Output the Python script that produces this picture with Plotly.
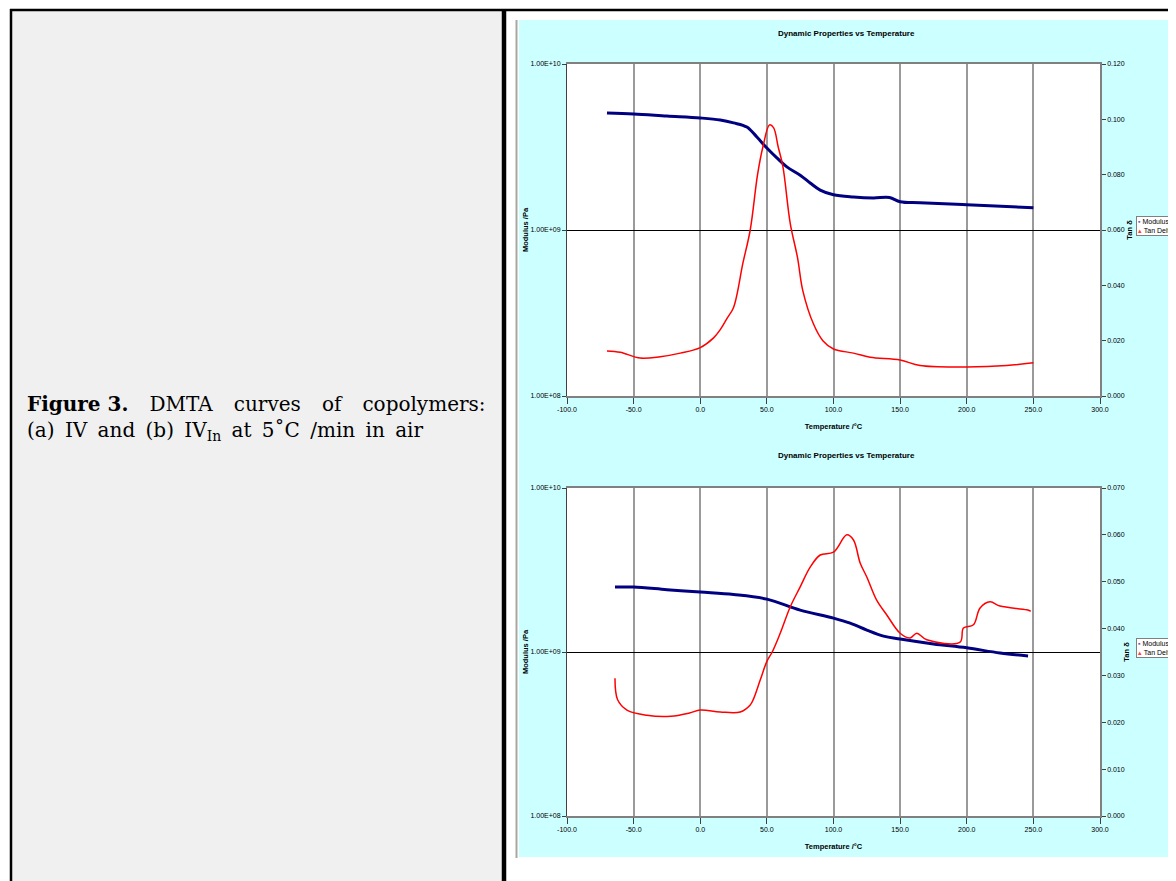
import plotly.graph_objects as go

# The page body adds an 8 px margin; the figure is sized so it ends at the window edge.
OFF = 8
W, H = 1168, 873

# ---------------- data ----------------
# (a) copolymer IV
temp_a_mod = [-70, -50, -25, 0, 15, 25, 35, 42.5, 50, 57.5, 65, 75, 82.5, 90, 100, 115, 130, 142, 150, 165, 200, 250]
modulus_a = [5.07e9, 5.0e9, 4.86e9, 4.73e9, 4.6e9, 4.42e9, 4.17e9, 3.63e9, 3.12e9, 2.72e9, 2.4e9, 2.14e9,
             1.92e9, 1.74e9, 1.63e9, 1.58e9, 1.56e9, 1.57e9, 1.48e9, 1.46e9, 1.42e9, 1.36e9]
temp_a_tan = [-70, -60, -45, -30, -15, 0, 10, 15, 20, 25, 32, 37.5, 43, 47, 52, 55, 58.5, 62, 67.5, 73, 77,
              85, 92, 100, 115, 127.5, 150, 165, 200, 230, 250]
tan_a = [0.0163, 0.0158, 0.0137, 0.0142, 0.0155, 0.0175, 0.021, 0.024, 0.028, 0.032, 0.048, 0.060, 0.080,
         0.090, 0.098, 0.097, 0.090, 0.083, 0.0625, 0.050, 0.038, 0.026, 0.020, 0.017, 0.0155, 0.014, 0.013,
         0.011, 0.0105, 0.011, 0.012]

# (b) copolymer IV_In
temp_b_mod = [-64, -50, -25, 0, 25, 50, 75, 100, 112.5, 125, 137.5, 150, 175, 200, 225, 246]
modulus_b = [2.49e9, 2.49e9, 2.4e9, 2.32e9, 2.24e9, 2.1e9, 1.8e9, 1.61e9, 1.5e9, 1.36e9, 1.25e9, 1.2e9,
             1.12e9, 1.06e9, 0.986e9, 0.946e9]
temp_b_tan = [-64, -62, -55, -40, -22, -8, 0, 15, 30, 37.5, 40, 45, 50, 54, 60, 67.5, 75, 82.5, 90, 100,
              110, 115, 120, 125, 132.5, 140, 150, 157.5, 162.5, 170, 195, 197.5, 205, 210, 217.5, 225, 245, 248]
tan_b = [0.0294, 0.0248, 0.0226, 0.0215, 0.0213, 0.022, 0.0226, 0.0222, 0.0222, 0.0237, 0.025, 0.029, 0.033,
         0.035, 0.039, 0.0446, 0.0489, 0.0531, 0.0557, 0.0563, 0.060, 0.0589, 0.054, 0.051, 0.046, 0.0429,
         0.039, 0.038, 0.039, 0.0376, 0.0371, 0.0401, 0.0408, 0.0444, 0.0457, 0.0448, 0.044, 0.0437]

x_ticks = [-100, -50, 0, 50, 100, 150, 200, 250, 300]
x_ticktext = ["-100.0", "-50.0", "0.0", "50.0", "100.0", "150.0", "200.0", "250.0", "300.0"]
mod_ticks = [1e8, 1e9, 1e10]
mod_ticktext = ["1.00E+08", "1.00E+09", "1.00E+10"]
tan_a_ticks = [0, 0.02, 0.04, 0.06, 0.08, 0.10, 0.12]
tan_a_ticktext = ["0.000", "0.020", "0.040", "0.060", "0.080", "0.100", "0.120"]
tan_b_ticks = [0, 0.01, 0.02, 0.03, 0.04, 0.05, 0.06, 0.07]
tan_b_ticktext = ["0.000", "0.010", "0.020", "0.030", "0.040", "0.050", "0.060", "0.070"]

NAVY = "#000080"
RED = "#ff0000"
CHART_FONT = "Liberation Sans Narrow, Arial Narrow, Liberation Sans, Arial, sans-serif"
SERIF = "DejaVu Serif, Liberation Serif, serif"


def px(x):
    return (x - OFF) / W


def py(y):
    return 1 - (y - OFF) / H


fig = go.Figure()
fig.add_trace(go.Scatter(x=temp_a_mod, y=modulus_a, name="Modulus", mode="lines",
                         line=dict(color=NAVY, width=3, shape="spline"), xaxis="x", yaxis="y", showlegend=False))
fig.add_trace(go.Scatter(x=temp_a_tan, y=tan_a, name="Tan Delta", mode="lines",
                         line=dict(color=RED, width=1.5, shape="spline"), xaxis="x", yaxis="y2", showlegend=False))
fig.add_trace(go.Scatter(x=temp_b_mod, y=modulus_b, name="Modulus", mode="lines",
                         line=dict(color=NAVY, width=3, shape="spline"), xaxis="x2", yaxis="y3", showlegend=False))
fig.add_trace(go.Scatter(x=temp_b_tan, y=tan_b, name="Tan Delta", mode="lines",
                         line=dict(color=RED, width=1.5, shape="spline"), xaxis="x2", yaxis="y4", showlegend=False))

xdom = [px(567), px(1100)]
top_dom = [py(396), py(64)]
bot_dom = [py(816), py(488)]

tickfont = dict(family=CHART_FONT, size=7, color="#000000")
titlefont = dict(family=CHART_FONT, size=7.5, color="#000000")


def xaxis_cfg(anchor):
    return dict(domain=xdom, anchor=anchor, range=[-100, 300], tickvals=x_ticks, ticktext=x_ticktext,
                showgrid=True, gridcolor="#9a9a9a", gridwidth=1.5, zeroline=False,
                showline=True, linecolor="#808080", linewidth=1.5, mirror=True,
                ticks="outside", ticklen=6, tickcolor="#404040", tickfont=tickfont,
                title=dict(text="<b>Temperature /°C</b>", font=titlefont, standoff=12), automargin=False)


def ymod_cfg(dom, anchor):
    return dict(domain=dom, anchor=anchor, type="log", range=[8, 10], tickvals=mod_ticks, ticktext=mod_ticktext,
                showgrid=True, gridcolor="#000000", gridwidth=1, zeroline=False,
                showline=True, linecolor="#404040", linewidth=1,
                ticks="outside", ticklen=4, tickcolor="#404040", tickfont=tickfont,
                title=dict(text="<b>Modulus /Pa</b>", font=titlefont, standoff=0), automargin=False)


def ytan_cfg(over, anchor, rng, tv, tt):
    return dict(overlaying=over, anchor=anchor, side="right", range=rng, tickvals=tv, ticktext=tt,
                showgrid=False, zeroline=False, showline=True, linecolor="#808080", linewidth=1.5,
                ticks="outside", ticklen=4, tickcolor="#404040", tickfont=tickfont,
                title=dict(text="<b>Tan δ</b>", font=titlefont, standoff=0), automargin=False)


shapes = [
    # left caption cell
    dict(type="rect", xref="paper", yref="paper", x0=px(12), x1=px(502), y0=0, y1=py(11),
         fillcolor="#f0f0f0", line=dict(width=0), layer="below"),
    # cyan chart background
    dict(type="rect", xref="paper", yref="paper", x0=px(519), x1=1, y0=py(857), y1=py(20),
         fillcolor="#ccffff", line=dict(width=0), layer="below"),
    # white plot areas
    dict(type="rect", xref="paper", yref="paper", x0=xdom[0], x1=xdom[1], y0=top_dom[0], y1=top_dom[1],
         fillcolor="#ffffff", line=dict(width=0), layer="below"),
    dict(type="rect", xref="paper", yref="paper", x0=xdom[0], x1=xdom[1], y0=bot_dom[0], y1=bot_dom[1],
         fillcolor="#ffffff", line=dict(width=0), layer="below"),
    # gray frame line of picture
    dict(type="line", xref="paper", yref="paper", x0=px(516.5), x1=px(516.5), y0=py(858), y1=py(20),
         line=dict(color="#a8a8a0", width=2), layer="below"),
    # table borders
    dict(type="line", xref="paper", yref="paper", x0=px(10), x1=1, y0=py(10), y1=py(10),
         line=dict(color="#000000", width=2.5), layer="above"),
    dict(type="line", xref="paper", yref="paper", x0=px(11), x1=px(11), y0=0, y1=py(9),
         line=dict(color="#000000", width=2.5), layer="above"),
    dict(type="line", xref="paper", yref="paper", x0=px(504), x1=px(504), y0=0, y1=py(9),
         line=dict(color="#000000", width=4.5), layer="above"),
]

legend_text = ("<span style='color:#6060c0'>▪</span><span style='color:#000000'> Modulus</span><br>"
               "<span style='color:#ff4040'>▴</span><span style='color:#000000'> Tan Delta</span>")

gap = "\u00a0\u00a0\u00a0\u200a"
sp = "\u00a0\u2009"
annotations = [
    dict(text="<b>Dynamic Properties vs Temperature</b>", x=px(846), y=py(33), xref="paper", yref="paper",
         xanchor="center", yanchor="middle", showarrow=False, font=dict(family=CHART_FONT, size=8, color="#000")),
    dict(text="<b>Dynamic Properties vs Temperature</b>", x=px(846), y=py(456), xref="paper", yref="paper",
         xanchor="center", yanchor="middle", showarrow=False, font=dict(family=CHART_FONT, size=8, color="#000")),
    dict(text=legend_text, x=px(1136), y=py(216), xref="paper", yref="paper", xanchor="left", yanchor="top",
         align="left", showarrow=False, bgcolor="#ffffff", bordercolor="#808080", borderwidth=1, borderpad=1,
         font=dict(family=CHART_FONT, size=7, color="#000")),
    dict(text=legend_text, x=px(1136), y=py(638), xref="paper", yref="paper", xanchor="left", yanchor="top",
         align="left", showarrow=False, bgcolor="#ffffff", bordercolor="#808080", borderwidth=1, borderpad=1,
         font=dict(family=CHART_FONT, size=7, color="#000")),
    dict(text="<b>Figure 3.</b>" + gap + "DMTA" + gap + "curves" + gap + "of" + gap + "copolymers:",
         x=px(25), y=py(404), xref="paper", yref="paper", xanchor="left", yanchor="middle", showarrow=False,
         font=dict(family=SERIF, size=20, color="#000")),
    dict(text="(a)" + sp + "IV" + sp + "and" + sp + "(b)" + sp + "IV<sub>In</sub>" + sp + "at" + sp + "5˚C" + sp
         + "/min" + sp + "in" + sp + "air",
         x=px(25), y=py(431), xref="paper", yref="paper", xanchor="left", yanchor="middle", showarrow=False,
         font=dict(family=SERIF, size=20, color="#000")),
]

fig.update_layout(
    width=W, height=H, margin=dict(l=0, r=0, t=0, b=0),
    paper_bgcolor="#ffffff", plot_bgcolor="rgba(0,0,0,0)",
    xaxis=xaxis_cfg("y"),
    yaxis=ymod_cfg(top_dom, "x"),
    yaxis2=ytan_cfg("y", "x", [0, 0.12], tan_a_ticks, tan_a_ticktext),
    xaxis2=xaxis_cfg("y3"),
    yaxis3=ymod_cfg(bot_dom, "x2"),
    yaxis4=ytan_cfg("y3", "x2", [0, 0.07], tan_b_ticks, tan_b_ticktext),
    shapes=shapes,
    annotations=annotations,
    showlegend=False,
)

fig.write_html("out.html")
